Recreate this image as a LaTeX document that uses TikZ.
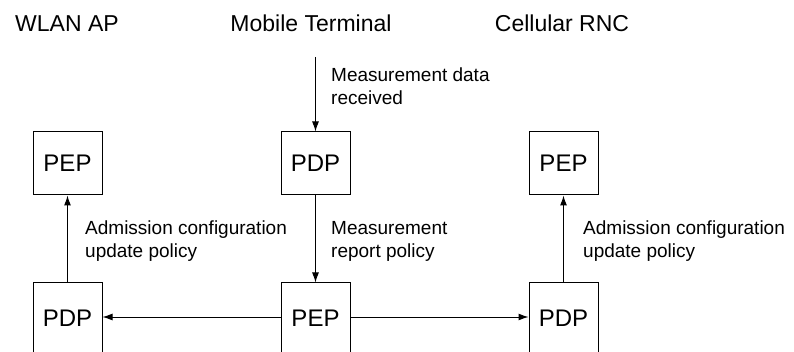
\documentclass[tikz,border=0pt]{standalone}
\usepackage{fontspec}
\setmainfont{Liberation Sans}
\usetikzlibrary{arrows.meta}
\begin{document}
\begin{tikzpicture}[x=1pt, y=-1pt,
    box/.style={draw, line width=1pt, minimum width=69pt, minimum height=63pt, inner sep=0pt, font=\fontsize{24}{28}\selectfont},
    lowbox/.style={box, minimum height=71pt},
    title/.style={anchor=base, font=\fontsize{23}{27}\selectfont},
    lbl/.style={anchor=north west, inner sep=0pt, align=left, font=\fontsize{19}{23}\selectfont},
    arr/.style={line width=1pt, -{Latex[length=10pt, width=7pt]}}]
            \useasboundingbox (0,0) rectangle (794,352);
            \node[title] (wlan) at (67,32) {WLAN AP};
            \node[title] (mobile) at (311,32) {Mobile Terminal};
            \node[title] (rnc) at (562,32) {Cellular RNC};
            \node[box] (pepW) at (67.5,163.5) {PEP};
            \node[box] (pdpM) at (315.5,163.5) {PDP};
            \node[box] (pepR) at (563.5,163.5) {PEP};
            \node[lowbox] (pdpW) at (67.5,318.5) {PDP};
            \node[lowbox] (pepM) at (315.5,318.5) {PEP};
            \node[lowbox] (pdpR) at (563.5,318.5) {PDP};
            \coordinate (in) at (315.5,57);
            \draw[arr] (in) -- (pdpM);
            \draw[arr] (pdpM) -- (pepM);
            \draw[arr] (pdpW) -- (pepW);
            \draw[arr] (pdpR) -- (pepR);
            \draw[arr] (pepM.west |- 0,317) -- (pdpW.east |- 0,317);
            \draw[arr] (pepM.east |- 0,317) -- (pdpR.west |- 0,317);
            \node[lbl] (dataLbl) at (331,68) {Measurement data\\received};
            \node[lbl] (reportLbl) at (331,221) {Measurement\\report policy};
            \node[lbl] (admW) at (85,221) {Admission configuration\\update policy};
            \node[lbl] (admR) at (583,221) {Admission configuration\\update policy};
        \end{tikzpicture}
\end{document}
